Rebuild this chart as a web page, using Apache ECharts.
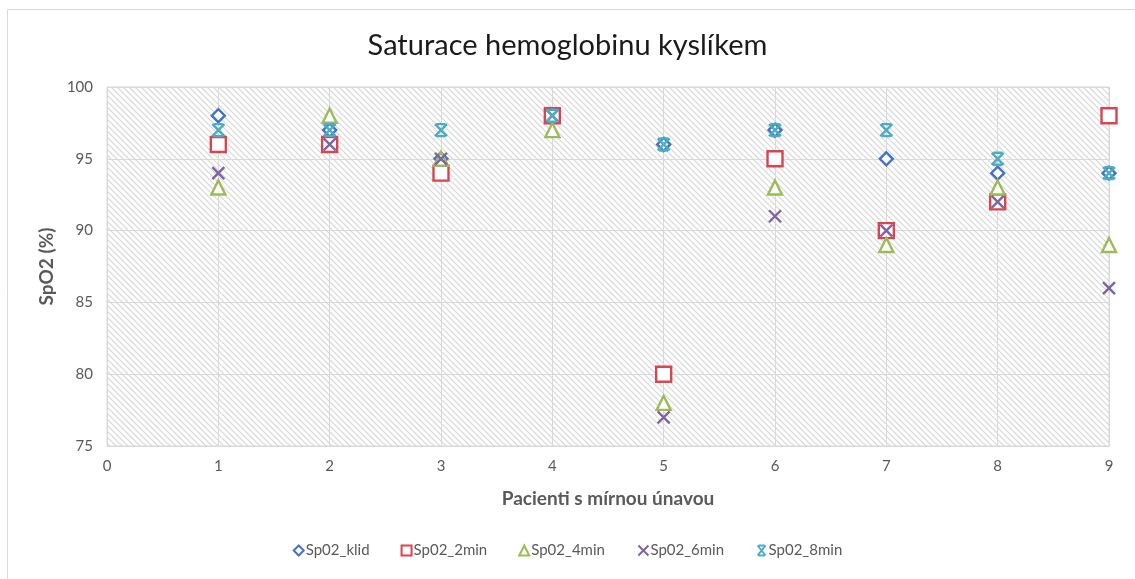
<!DOCTYPE html>
<html>
<head>
<meta charset="utf-8">
<script src="https://cdn.jsdelivr.net/npm/echarts@6/dist/echarts.min.js"></script>
<style>
  html, body { margin: 0; padding: 0; background: #fff; }
  #chart { width: 1135px; height: 579px; }
</style>
</head>
<body>
<div id="chart"></div>
<script>
// pacienti 1..9
var patients = [1, 2, 3, 4, 5, 6, 7, 8, 9]
var spo2Klid = [98, 97, 95, 98, 96, 97, 95, 94, 94]
var spo2_2min = [96, 96, 94, 98, 80, 95, 90, 92, 98]
var spo2_4min = [93, 98, 95, 97, 78, 93, 89, 93, 89]
var spo2_6min = [94, 96, 95, 98, 77, 91, 90, 92, 86]
var spo2_8min = [97, 97, 97, 98, 96, 97, 97, 95, 94]
var seriesNames = ['Sp02_klid', 'Sp02_2min', 'Sp02_4min', 'Sp02_6min', 'Sp02_8min']
var yTicks = [75, 80, 85, 90, 95, 100]

function pairs(vals) {
    return patients.map(function (p, i) { return [p, vals[i]] })
}

// srafovane pozadi plochy grafu
var tile = document.createElement('canvas')
tile.width = 6
tile.height = 6
var ctx = tile.getContext('2d')
ctx.fillStyle = '#ffffff'
ctx.fillRect(0, 0, 6, 6)
ctx.strokeStyle = '#d6d6d6'
ctx.lineWidth = 1.2
ctx.beginPath()
ctx.moveTo(-1, -1); ctx.lineTo(7, 7)
ctx.moveTo(-4, 2); ctx.lineTo(2, 8)
ctx.moveTo(2, -4); ctx.lineTo(8, 2)
ctx.stroke()

var xMark = 'path://M0,0L10,10M10,0L0,10'
var starMark = 'path://M2,0L8,0M2,10L8,10M1,0L9,10M9,0L1,10'

var myChart = echarts.init(document.getElementById('chart'))

function sc(name, vals, symbol, size, color, fillNone) {
    return {
        name: name,
        type: 'scatter',
        data: pairs(vals),
        symbol: symbol,
        symbolSize: size,
        itemStyle: {
            color: fillNone ? 'none' : '#fff',
            opacity: 1,
            borderColor: color,
            borderWidth: 2.4
        },
        emphasis: { disabled: true }
    }
}

var option = {
    backgroundColor: '#fff',
    animation: false,
    title: {
        text: 'Saturace hemoglobinu kyslíkem',
        left: 'center',
        top: 26,
        textStyle: {
            fontFamily: 'Lato',
            fontSize: 29,
            fontWeight: 'normal',
            color: '#1a1a1a'
        }
    },
    graphic: [{
        type: 'rect',
        shape: { x: 7.5, y: 9.5, width: 1140, height: 600 },
        style: { fill: 'none', stroke: '#d9d9d9', lineWidth: 1 },
        silent: true
    }],
    legend: {
        bottom: 16,
        left: 'center',
        itemWidth: 10,
        itemHeight: 10,
        itemGap: 31,
        textStyle: { fontFamily: 'Lato', fontSize: 15, color: '#595959', padding: [0, 0, 0, -3] },
        data: seriesNames
    },
    grid: {
        left: 107,
        right: 26,
        top: 87,
        bottom: 133,
        show: true,
        backgroundColor: { image: tile, repeat: 'repeat' },
        borderColor: '#d9d9d9',
        borderWidth: 1
    },
    xAxis: {
        type: 'value',
        min: 0,
        max: 9,
        interval: 1,
        name: 'Pacienti s mírnou únavou',
        nameLocation: 'middle',
        nameGap: 43,
        nameTextStyle: { fontFamily: 'Lato', fontSize: 19, fontWeight: 'bold', color: '#595959' },
        axisLine: { lineStyle: { color: '#d9d9d9' } },
        axisTick: { show: false },
        axisLabel: { margin: 13, fontFamily: 'Lato', fontSize: 15, color: '#595959' },
        splitLine: { lineStyle: { color: '#d9d9d9' } }
    },
    yAxis: {
        type: 'value',
        min: yTicks[0],
        max: yTicks[yTicks.length - 1],
        interval: 5,
        name: 'SpO2 (%)',
        nameLocation: 'middle',
        nameGap: 50,
        nameTextStyle: { fontFamily: 'Lato', fontSize: 19, fontWeight: 'bold', color: '#595959' },
        axisLine: { show: true, lineStyle: { color: '#d9d9d9' } },
        axisTick: { show: false },
        axisLabel: { margin: 14, fontFamily: 'Lato', fontSize: 15, color: '#595959' },
        splitLine: { lineStyle: { color: '#d9d9d9' } }
    },
    series: [
        sc(seriesNames[0], spo2Klid, 'diamond', 13, '#4472C4', false),
        sc(seriesNames[1], spo2_2min, 'rect', 15, '#D64550', false),
        sc(seriesNames[2], spo2_4min, 'triangle', 14, '#9BBB59', false),
        sc(seriesNames[3], spo2_6min, xMark, 12, '#8064A2', true),
        sc(seriesNames[4], spo2_8min, starMark, 12, '#4BACC6', true)
    ]
}

myChart.setOption(option)
</script>
</body>
</html>
